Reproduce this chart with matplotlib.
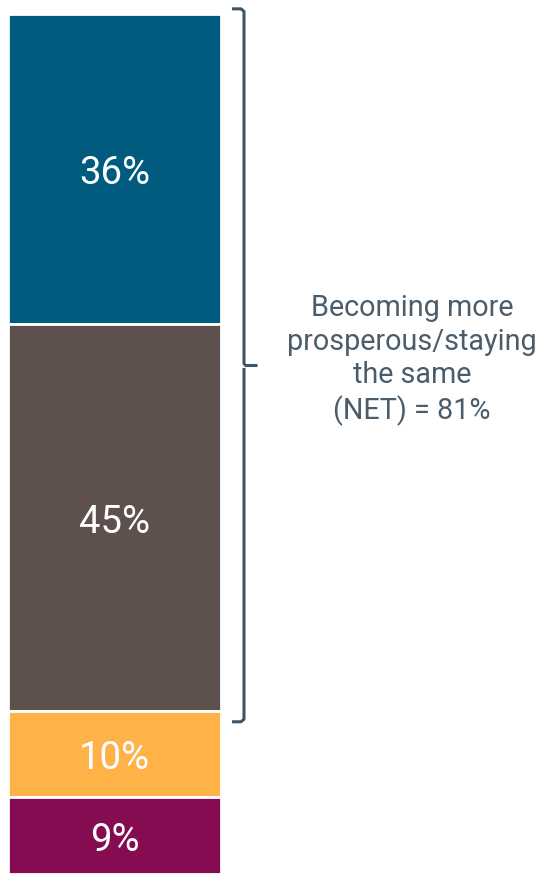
import matplotlib
matplotlib.use("Agg")
from matplotlib import pyplot as plt

plt.rcParams['font.family'] = ['Roboto', 'DejaVu Sans']

# stacked shares, top segment first
labels = ["36%", "45%", "10%", "9%"]
values = [36, 45, 10, 9]
colors = ["#005b7f", "#5e514d", "#ffb248", "#860c52"]
net_value = 81
net_text = "Becoming more\nprosperous/staying\nthe same\n(NET) = 81%"

W, H = 544, 874
fig = plt.figure(figsize=(W / 100, H / 100), dpi=100)
ax = fig.add_axes([0, 0, 1, 860 / H])
ax.set_xlim(0, W)
ax.set_ylim(0, 100)
ax.axis("off")

# build the stack from the top down
top = 100
for lab, val, col in zip(labels, values, colors):
    bottom = top - val
    ax.bar(8, val, bottom=bottom, width=213, align="edge", color=col,
           edgecolor="white", linewidth=2)
    ax.text(8 + 213 / 2, bottom + val / 2 - 0.6, lab, ha="center", va="center",
            color="white", fontsize=27.5)
    top = bottom

# bracket around the NET segments
b_top = 100.6
b_bot = 100 - net_value - 1.3
b_mid = (b_top + b_bot) / 2
bx, bl, bt = 244, 232, 257
kw = dict(color="#3f5565", lw=2.2, clip_on=False, solid_capstyle="butt")
ax.plot([bl, bx - 3, bx, bx, bx + 0.5], [b_top, b_top, b_top - 0.3, b_mid + 0.3, b_mid], **kw)
ax.plot([bx, bx, bx - 3, bl], [b_mid - 0.3, b_bot + 0.3, b_bot, b_bot], **kw)
ax.plot([bx, bt], [b_mid, b_mid], **kw)

ax.text(412, b_mid + 0.6, net_text, ha="center", va="center",
        color="#4b5d6b", fontsize=20.7, linespacing=1.25)

fig.savefig("out.png", dpi=100)
